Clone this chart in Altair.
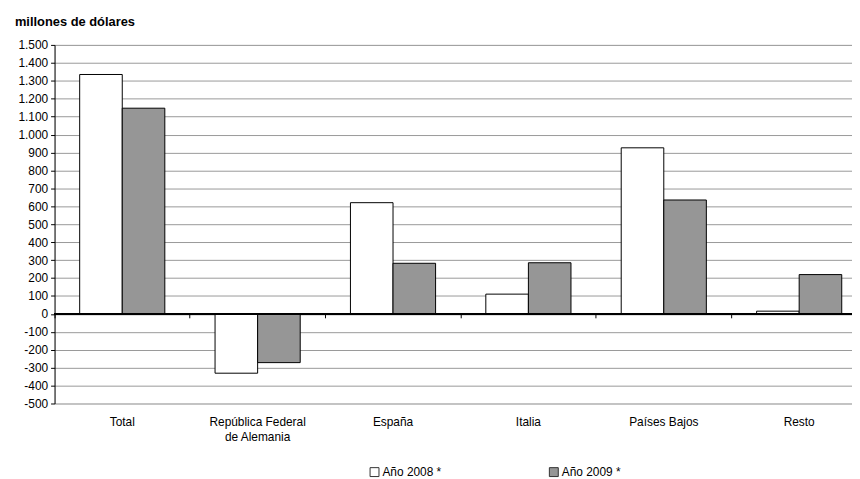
import altair as alt
import pandas as pd

categorias = ["Total", "República Federal de Alemania", "España", "Italia", "Países Bajos", "Resto"]
series = ["Año 2008 *", "Año 2009 *"]
valores_2008 = [1335, -331, 620, 110, 926, 15]
valores_2009 = [1147, -272, 282, 285, 635, 219]
y_ticks = list(range(-500, 1501, 100))

rows = []
for c, a, b in zip(categorias, valores_2008, valores_2009):
    rows.append({"cat": c, "serie": series[0], "valor": a})
    rows.append({"cat": c, "serie": series[1], "valor": b})
df = pd.DataFrame(rows)

FONT = "Liberation Sans"

x_scale = alt.Scale(range=[0, 820], paddingInner=0, paddingOuter=0)
y_scale = alt.Scale(domain=[-500, 1500], nice=False, zero=False)


def y_axis():
    return alt.Axis(
        values=y_ticks,
        labelExpr="replace(replace(format(datum.value, ','), ',', '.'), '\u2212', '-')",
        labelOverlap=False,
        grid=True, gridColor="#999999", gridWidth=1,
        domain=True, domainColor="black", domainWidth=1,
        ticks=True, tickColor="black", tickSize=4,
        labelFontSize=12, labelColor="black", labelPadding=3, labelFont=FONT,
        title=None,
    )


bars = alt.Chart(df).mark_bar(stroke="black", strokeWidth=1).encode(
    x=alt.X("cat:N", sort=categorias, scale=x_scale,
            axis=alt.Axis(orient="bottom", ticks=False, domain=False, labelAngle=0,
                          labelFontSize=12, labelColor="black", labelFont=FONT,
                          labelPadding=13, labelLineHeight=15, title=None,
                          labelExpr="datum.label == 'República Federal de Alemania' ? ['República Federal', 'de Alemania'] : datum.label")),
    xOffset=alt.XOffset("serie:N", sort=series, scale=alt.Scale(paddingOuter=0.59, paddingInner=0)),
    y=alt.Y("valor:Q", scale=y_scale, axis=y_axis()),
    color=alt.Color("serie:N", sort=series,
                    scale=alt.Scale(domain=series, range=["#ffffff", "#969696"]),
                    legend=alt.Legend(orient="none", legendX=317, legendY=425, direction="horizontal",
                                      title=None, symbolType="square", symbolSize=81,
                                      symbolStrokeColor="#333333", symbolStrokeWidth=1,
                                      labelFontSize=12, labelFont=FONT, labelColor="black",
                                      labelOffset=2, columnPadding=106)),
)

ticks_layer = alt.Chart(df).mark_point(opacity=0).encode(
    x=alt.X("cat:N", sort=categorias,
            axis=alt.Axis(orient="bottom", offset=-90.5, labels=False, ticks=True, tickSize=4,
                          tickColor="black", bandPosition=0, domain=False, grid=False, title=None)),
    y=alt.Y("valor:Q", scale=y_scale, axis=y_axis()),
)

zero = alt.Chart(df).mark_rule(color="black", strokeWidth=1.2).encode(
    y=alt.Y(datum=0, scale=y_scale, axis=y_axis())
)

chart = alt.layer(bars, ticks_layer, zero).resolve_axis(x="independent").properties(
    width=805, height=362,
    autosize=alt.AutoSizeParams(type="none"),
    padding={"left": 47, "top": 35, "right": 0, "bottom": 78},
    title=alt.TitleParams("millones de dólares", anchor="start", frame="group", fontSize=13,
                          fontWeight="bold", font=FONT, color="black", dx=-40, offset=10),
).configure_view(stroke="black", strokeWidth=1).configure(font=FONT).configure_axisY(labelOverlap=False)

chart.save("out.html", embed_options={"renderer": "svg", "actions": False})
